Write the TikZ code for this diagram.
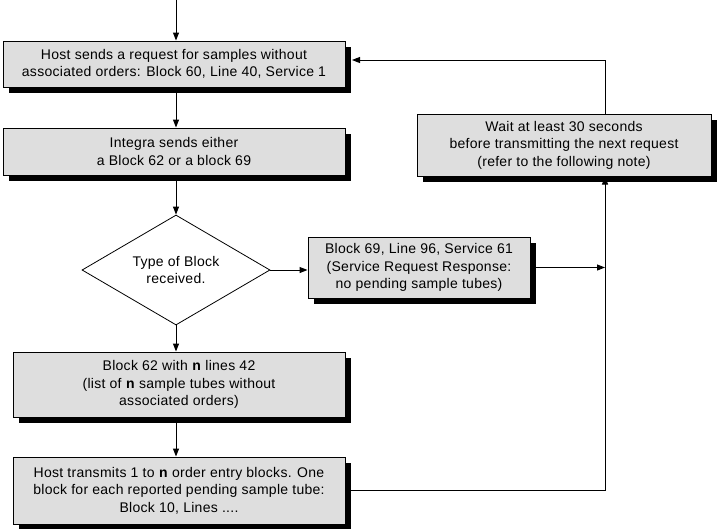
\documentclass[tikz,border=0pt]{standalone}
\usepackage{fontspec}
\setmainfont{Liberation Sans}[LetterSpace=2]
\usetikzlibrary{arrows.meta,shapes.geometric,shadows}
\definecolor{boxfill}{RGB}{222,222,222}
\begin{document}
\begin{tikzpicture}[x=1pt,y=-1pt,
  every node/.style={font=\fontsize{14}{17.5}\selectfont, align=center},
  box/.style={draw=black, line width=1pt, fill=boxfill, inner sep=0pt,
    drop shadow={shadow xshift=6pt, shadow yshift=-6pt, fill=black, opacity=1}},
  dec/.style={draw=black, line width=0.8pt, diamond, fill=white, inner sep=0pt,
    aspect=1.71, minimum width=188pt, minimum height=110pt},
  conn/.style={line width=1pt},
  arr/.style={conn, -{Triangle[length=8pt,width=6pt]}}]
\useasboundingbox (0,0) rectangle (717,528);
\coordinate (top) at (176,0);
\coordinate (j) at (605,0);
\coordinate (loop) at (605,60);
\node[box, minimum width=342pt, minimum height=46pt] (b1) at (174,64)
  {Host sends a request for samples without\\associated orders: Block 60, Line 40, Service 1};
\node[box, minimum width=342pt, minimum height=47pt] (b2) at (174,151.5)
  {Integra sends either\\a Block 62 or a block 69};
\node[dec] (dia) at (176,270) {Type of Block\\received.};
\node[box, minimum width=222pt, minimum height=61pt] (b69) at (419,267.5)
  {Block 69, Line 96, Service 61\\(Service Request Response:\\no pending sample tubes)};
\node[box, minimum width=294pt, minimum height=62pt] (wait) at (564,145)
  {Wait at least 30 seconds\\before transmitting the next request\\(refer to the following note)};
\node[box, minimum width=332pt, minimum height=65pt] (b62) at (179,384.5)
  {Block 62 with \textbf{n} lines 42\\(list of \textbf{n} sample tubes without\\associated orders)};
\node[box, minimum width=332pt, minimum height=67pt] (b10) at (179,490.5)
  {Host transmits 1 to \textbf{n} order entry blocks. One\\block for each reported pending sample tube:\\Block 10, Lines ....};
\draw[arr] (top) -- (b1.north -| top);
\draw[arr] (b1.south -| top) -- (b2.north -| top);
\draw[arr] (b2.south -| top) -- (dia.north);
\draw[arr] (dia.south) -- (b62.north -| top);
\draw[arr] (b62.south -| top) -- (b10.north -| top);
\draw[arr] (dia.east) -- (dia.east -| b69.west);
\draw[arr] (b69.east) -- (b69.east -| j);
\draw[arr] (b10.east) -- (b10.east -| j) -- (wait.south -| j);
\draw[arr] (wait.north -| j) -- (loop) -- ([xshift=6.5pt]b1.east |- loop);
\end{tikzpicture}
\end{document}
